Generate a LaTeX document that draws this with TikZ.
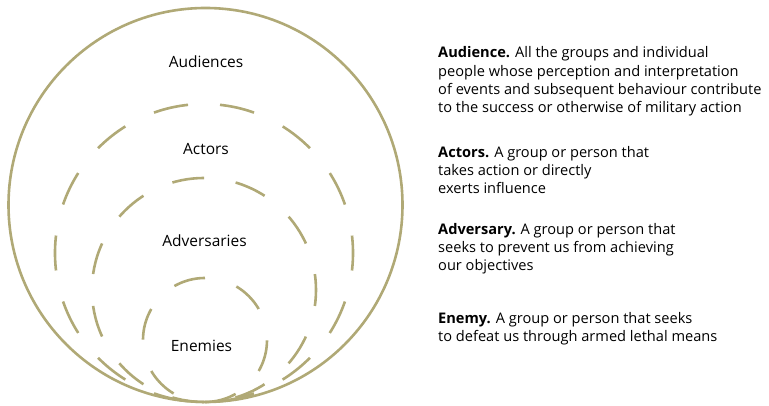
\documentclass[tikz,border=0pt]{standalone}
\usepackage{fontspec}
\setmainfont{Open Sans}
\usepackage{tikz}
\usetikzlibrary{calc}
\definecolor{khaki}{RGB}{176,169,118}

\begin{document}
\begin{tikzpicture}[x=1pt, y=1pt,
    ring/.style={draw=khaki, line width=2.6pt},
    ringname/.style={font=\fontsize{15.5}{18}\selectfont, anchor=base, inner sep=0pt},
    desc/.style={font=\fontsize{14.6}{18.1}\selectfont, align=left, anchor=base west, inner sep=0pt}]
  \useasboundingbox (0,0) rectangle (769,406);
  % circles, all touching at the bottom
  \coordinate (c0) at (205.5,201);
  \coordinate (c1) at (204,153);
  \coordinate (c2) at (204,116);
  \coordinate (c3) at (205,66);
  \draw[ring] (c0) circle[radius=197];
  \draw[ring, dash pattern=on 35pt off 31.87pt, dash phase=50.9pt]
    ($(c1)+(0,149)$) arc[start angle=90, end angle=450, radius=149];
  \draw[ring, dash pattern=on 32pt off 31.97pt]
    ($(c2)+(0,112)$) arc[start angle=90, end angle=450, radius=112];
  \draw[ring, dash pattern=on 32pt off 32.93pt]
    ($(c3)+(0,62)$) arc[start angle=90, end angle=450, radius=62];
  % names in the rings
  \node[ringname] (audiences) at (206,338.3) {Audiences};
  \node[ringname] (actors) at (206,251) {Actors};
  \node[ringname] (adversaries) at (204.5,159) {Adversaries};
  \node[ringname] (enemies) at (201.5,54.3) {Enemies};
  % definitions (placed by the baseline of their last line)
  \node[desc] (audiencetxt) at (438,293.7) {\textbf{Audience.} All the groups and individual\\
    people whose perception and interpretation\\
    of events and subsequent behaviour contribute\\
    to the success or otherwise of military action};
  \node[desc] (actorstxt) at (438,212.7) {\textbf{Actors.} A group or person that\\
    takes action or directly\\
    exerts influence};
  \node[desc] (adversarytxt) at (438,135) {\textbf{Adversary.} A group or person that\\
    seeks to prevent us from achieving\\
    our objectives};
  \node[desc] (enemytxt) at (438,64.3) {\textbf{Enemy.} A group or person that seeks\\
    to defeat us through armed lethal means};
\end{tikzpicture}
\end{document}
